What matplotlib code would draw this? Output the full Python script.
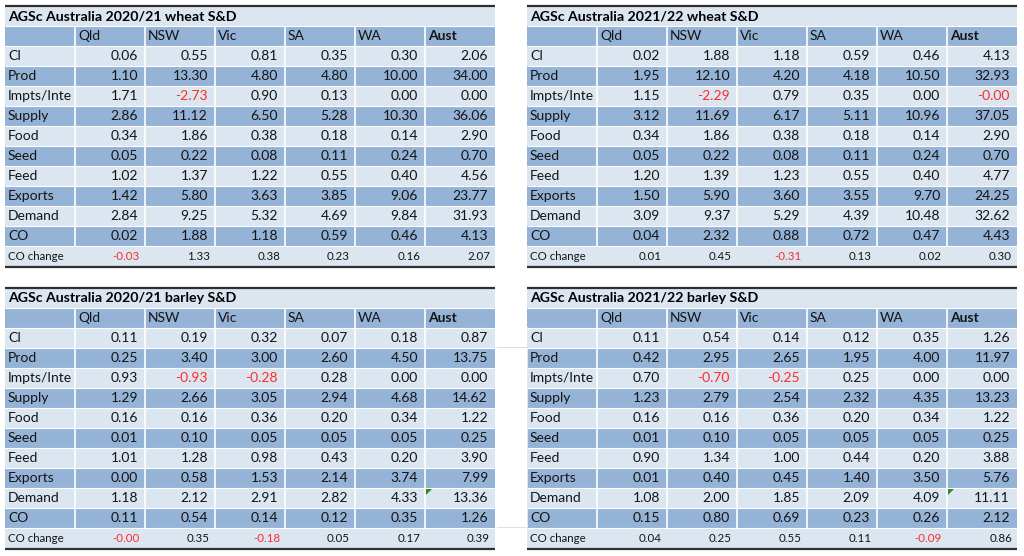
import matplotlib
matplotlib.use("Agg")
import matplotlib.pyplot as plt
import numpy as np
from matplotlib.patches import Rectangle, Polygon

# ---------------------------------------------------------------------------
# Data (million tonnes), read off the four S&D tables
# ---------------------------------------------------------------------------
states = ["Qld", "NSW", "Vic", "SA", "WA", "Aust"]
row_labels = ["CI", "Prod", "Impts/Inter", "Supply", "Food", "Seed", "Feed",
              "Exports", "Demand", "CO"]

wheat_2021_title = "AGSc Australia 2020/21 wheat S&D"
wheat_2021 = [
    [0.06, 0.55, 0.81, 0.35, 0.30, 2.06],
    [1.10, 13.30, 4.80, 4.80, 10.00, 34.00],
    [1.71, -2.73, 0.90, 0.13, 0.00, 0.00],
    [2.86, 11.12, 6.50, 5.28, 10.30, 36.06],
    [0.34, 1.86, 0.38, 0.18, 0.14, 2.90],
    [0.05, 0.22, 0.08, 0.11, 0.24, 0.70],
    [1.02, 1.37, 1.22, 0.55, 0.40, 4.56],
    [1.42, 5.80, 3.63, 3.85, 9.06, 23.77],
    [2.84, 9.25, 5.32, 4.69, 9.84, 31.93],
    [0.02, 1.88, 1.18, 0.59, 0.46, 4.13],
]
wheat_2021_co_change = [-0.03, 1.33, 0.38, 0.23, 0.16, 2.07]

wheat_2122_title = "AGSc Australia 2021/22 wheat S&D"
wheat_2122 = [
    [0.02, 1.88, 1.18, 0.59, 0.46, 4.13],
    [1.95, 12.10, 4.20, 4.18, 10.50, 32.93],
    [1.15, -2.29, 0.79, 0.35, 0.00, -0.00],
    [3.12, 11.69, 6.17, 5.11, 10.96, 37.05],
    [0.34, 1.86, 0.38, 0.18, 0.14, 2.90],
    [0.05, 0.22, 0.08, 0.11, 0.24, 0.70],
    [1.20, 1.39, 1.23, 0.55, 0.40, 4.77],
    [1.50, 5.90, 3.60, 3.55, 9.70, 24.25],
    [3.09, 9.37, 5.29, 4.39, 10.48, 32.62],
    [0.04, 2.32, 0.88, 0.72, 0.47, 4.43],
]
wheat_2122_co_change = [0.01, 0.45, -0.31, 0.13, 0.02, 0.30]

barley_2021_title = "AGSc Australia 2020/21 barley S&D"
barley_2021 = [
    [0.11, 0.19, 0.32, 0.07, 0.18, 0.87],
    [0.25, 3.40, 3.00, 2.60, 4.50, 13.75],
    [0.93, -0.93, -0.28, 0.28, 0.00, 0.00],
    [1.29, 2.66, 3.05, 2.94, 4.68, 14.62],
    [0.16, 0.16, 0.36, 0.20, 0.34, 1.22],
    [0.01, 0.10, 0.05, 0.05, 0.05, 0.25],
    [1.01, 1.28, 0.98, 0.43, 0.20, 3.90],
    [0.00, 0.58, 1.53, 2.14, 3.74, 7.99],
    [1.18, 2.12, 2.91, 2.82, 4.33, 13.36],
    [0.11, 0.54, 0.14, 0.12, 0.35, 1.26],
]
barley_2021_co_change = [-0.00, 0.35, -0.18, 0.05, 0.17, 0.39]

barley_2122_title = "AGSc Australia 2021/22 barley S&D"
barley_2122 = [
    [0.11, 0.54, 0.14, 0.12, 0.35, 1.26],
    [0.42, 2.95, 2.65, 1.95, 4.00, 11.97],
    [0.70, -0.70, -0.25, 0.25, 0.00, 0.00],
    [1.23, 2.79, 2.54, 2.32, 4.35, 13.23],
    [0.16, 0.16, 0.36, 0.20, 0.34, 1.22],
    [0.01, 0.10, 0.05, 0.05, 0.05, 0.25],
    [0.90, 1.34, 1.00, 0.44, 0.20, 3.88],
    [0.01, 0.40, 0.45, 1.40, 3.50, 5.76],
    [1.08, 2.00, 1.85, 2.09, 4.09, 11.11],
    [0.15, 0.80, 0.69, 0.23, 0.26, 2.12],
]
barley_2122_co_change = [0.04, 0.25, 0.55, 0.11, -0.09, 0.86]

# ---------------------------------------------------------------------------
# Style
# ---------------------------------------------------------------------------
LIGHT = "#dce6f1"
DARK = "#95b3d7"
TXT = "#141414"
RED = "#ff2a2a"
FONT = "Lato"
FS = 10.0
FS_TITLE = 10.2
FS_SMALL = 8.3
CW = 70      # column width (px)
RH = 20      # row height (px)
MAX_LABEL = 10   # the spreadsheet column only shows this many characters

plt.rcParams["font.family"] = [FONT, "DejaVu Sans"]

fig = plt.figure(figsize=(10.24, 5.56), dpi=100)
ax = fig.add_axes([0, 0, 1, 1])
ax.set_xlim(0, 1024)
ax.set_ylim(556, 0)
ax.axis("off")


def fmt(v):
    return f"{v:.2f}"


def is_neg(v):
    # -0.00 is shown in red as well
    return bool(np.signbit(v))


def draw_table(x0, y0, title, values, co_change, flag_cell=None):
    ncols = len(states) + 1
    width = CW * ncols
    # title row
    ax.add_patch(Rectangle((x0, y0), width, RH, facecolor=LIGHT, edgecolor="none"))
    ax.text(x0 + 3, y0 + RH / 2 + 0.5, title, fontsize=FS_TITLE, fontweight="bold",
            color="black", va="center", ha="left")
    # header row
    y = y0 + RH
    ax.add_patch(Rectangle((x0, y), width, RH, facecolor=DARK, edgecolor="none"))
    for j, st in enumerate(states):
        cx = x0 + CW * (j + 1)
        ax.text(cx + 3, y + RH / 2 + 0.5, st, fontsize=FS, color=TXT, va="center",
                ha="left", fontweight="bold" if st == "Aust" else "normal")
    # body rows
    for i, (lab, vals) in enumerate(zip(row_labels, values)):
        y = y0 + RH * (i + 2)
        col = LIGHT if i % 2 == 0 else DARK
        ax.add_patch(Rectangle((x0, y), width, RH, facecolor=col, edgecolor="none"))
        ax.text(x0 + 3, y + RH / 2 + 0.5, lab[:MAX_LABEL], fontsize=FS, color=TXT,
                va="center", ha="left", zorder=2)
        # paint the empty left part of the next cell over any overflow
        ax.add_patch(Rectangle((x0 + CW - 0.6, y), 28, RH, facecolor=col,
                               edgecolor="none", zorder=2.5))
        for j, v in enumerate(vals):
            cx = x0 + CW * (j + 2)
            ax.text(cx - 7, y + RH / 2 + 0.5, fmt(v), fontsize=FS,
                    color=RED if is_neg(v) else TXT, va="center", ha="right",
                    zorder=3)
    # CO change row
    y = y0 + RH * (len(row_labels) + 2)
    ax.add_patch(Rectangle((x0, y), width, RH, facecolor=LIGHT, edgecolor="none"))
    ax.text(x0 + 3, y + RH / 2 + 0.5, "CO change", fontsize=FS_SMALL, color=TXT,
            va="center", ha="left")
    for j, v in enumerate(co_change):
        cx = x0 + CW * (j + 2)
        ax.text(cx - 5, y + RH / 2 + 0.5, fmt(v), fontsize=FS_SMALL,
                color=RED if is_neg(v) else TXT, va="center", ha="right")

    # white cell separators
    body_top = y0 + RH
    body_bot = y0 + RH * (len(row_labels) + 2)
    for k in range(1, ncols):
        ax.plot([x0 + CW * k] * 2, [body_top, body_bot], color="white", lw=1.2,
                solid_capstyle="butt", zorder=2.8)
    for r in range(1, len(row_labels) + 3):
        ax.plot([x0, x0 + width], [y0 + RH * r] * 2, color="white", lw=0.8,
                solid_capstyle="butt", zorder=2.8)

    # dark rules on top and bottom
    bottom = y0 + RH * (len(row_labels) + 3)
    ax.plot([x0, x0 + width], [y0 - 0.5, y0 - 0.5], color="#303030", lw=1.6,
            solid_capstyle="butt", zorder=4)
    ax.plot([x0, x0 + width], [bottom + 0.5, bottom + 0.5], color="#303030",
            lw=1.6, solid_capstyle="butt", zorder=4)

    # small comment marker (green triangle) in one cell
    if flag_cell is not None:
        ri, cj = flag_cell
        cx = x0 + CW * (cj + 1) + 1
        cy = y0 + RH * (ri + 2) + 1
        ax.add_patch(Polygon([[cx, cy], [cx + 6, cy], [cx, cy + 6]], closed=True,
                             facecolor="#2e8b2e", edgecolor="none", zorder=3))


# faint spreadsheet gridlines in the gap between the barley tables
for gy in [347, 527]:
    ax.plot([497, 527], [gy, gy], color="#e0e0e0", lw=0.7)
ax.plot([527, 527], [327, 548], color="#e6e6e6", lw=0.7)

draw_table(5, 6, wheat_2021_title, wheat_2021, wheat_2021_co_change)
draw_table(527, 6, wheat_2122_title, wheat_2122, wheat_2122_co_change)
draw_table(5, 288, barley_2021_title, barley_2021, barley_2021_co_change,
           flag_cell=(8, 5))
draw_table(527, 288, barley_2122_title, barley_2122, barley_2122_co_change,
           flag_cell=(8, 5))

fig.savefig("out.png", dpi=100, facecolor="white")
